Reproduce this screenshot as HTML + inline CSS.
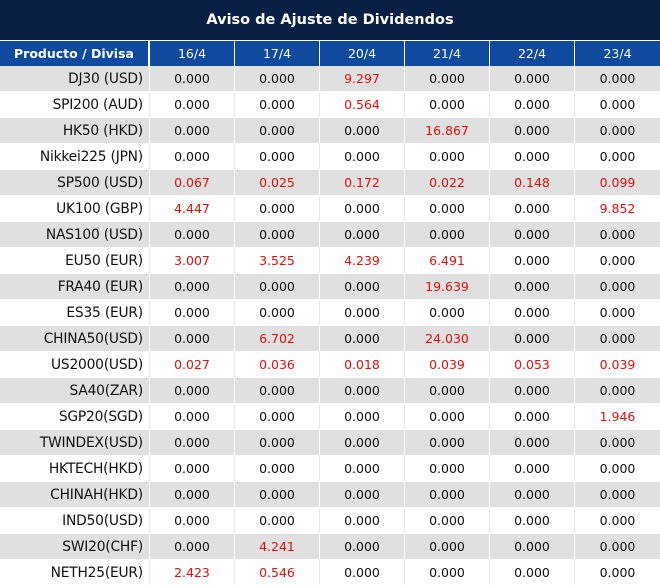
<!DOCTYPE html>
<html><head><meta charset="utf-8"><style>
body{margin:0;width:660px;height:587px;background:#fff;font-family:"DejaVu Sans","Liberation Sans",sans-serif;overflow:hidden;position:relative}
.t{position:absolute;left:0;top:0;width:660px;height:40px;background:#0a1f44;color:#fff;font-weight:bold;font-size:14.5px;text-align:center;line-height:40px}
.c{position:absolute;box-sizing:border-box;font-size:12.5px;line-height:25px;height:25px;text-align:center;color:#111}
.h{background:#0f4a9e;color:#fff;font-size:12.5px}
.g{background:#e0e0e0}
.w{box-shadow:1px 0 0 #e8e8e8}
.r{color:#e01010}
.n{text-align:right;padding-right:6px;font-size:13.8px;letter-spacing:-0.2px;line-height:27px}
</style></head><body>
<div class="t">Aviso de Ajuste de Dividendos</div>
<div id="tb"></div>
<script>
var cols=["16/4","17/4","20/4","21/4","22/4","23/4"];
var rows=[["DJ30 (USD)","0.000","0.000","9.297","0.000","0.000","0.000"],
["SPI200 (AUD)","0.000","0.000","0.564","0.000","0.000","0.000"],
["HK50 (HKD)","0.000","0.000","0.000","16.867","0.000","0.000"],
["Nikkei225 (JPN)","0.000","0.000","0.000","0.000","0.000","0.000"],
["SP500 (USD)","0.067","0.025","0.172","0.022","0.148","0.099"],
["UK100 (GBP)","4.447","0.000","0.000","0.000","0.000","9.852"],
["NAS100 (USD)","0.000","0.000","0.000","0.000","0.000","0.000"],
["EU50 (EUR)","3.007","3.525","4.239","6.491","0.000","0.000"],
["FRA40 (EUR)","0.000","0.000","0.000","19.639","0.000","0.000"],
["ES35 (EUR)","0.000","0.000","0.000","0.000","0.000","0.000"],
["CHINA50(USD)","0.000","6.702","0.000","24.030","0.000","0.000"],
["US2000(USD)","0.027","0.036","0.018","0.039","0.053","0.039"],
["SA40(ZAR)","0.000","0.000","0.000","0.000","0.000","0.000"],
["SGP20(SGD)","0.000","0.000","0.000","0.000","0.000","1.946"],
["TWINDEX(USD)","0.000","0.000","0.000","0.000","0.000","0.000"],
["HKTECH(HKD)","0.000","0.000","0.000","0.000","0.000","0.000"],
["CHINAH(HKD)","0.000","0.000","0.000","0.000","0.000","0.000"],
["IND50(USD)","0.000","0.000","0.000","0.000","0.000","0.000"],
["SWI20(CHF)","0.000","4.241","0.000","0.000","0.000","0.000"],
["NETH25(EUR)","2.423","0.546","0.000","0.000","0.000","0.000"]];
var h="";
function cell(x,w,y,cls,txt){h+='<div class="c '+cls+'" style="left:'+x+'px;width:'+w+'px;top:'+y+'px">'+txt+'</div>';}
cell(0,148,41,"h","<b>Producto / Divisa</b>");
for(var j=0;j<6;j++)cell(150+85*j,j==5?85:84,41,"h",cols[j]);
for(var i=0;i<20;i++){var y=66+26*i,g=i%2==0?"g":"w";
 cell(0,149,y,"n "+g,rows[i][0]);
 for(var j=0;j<6;j++){var v=rows[i][j+1];cell(150+85*j,j==5?85:84,y,g+(v!="0.000"?" r":""),v);}
}
document.getElementById("tb").innerHTML=h;
</script>
</body></html>
